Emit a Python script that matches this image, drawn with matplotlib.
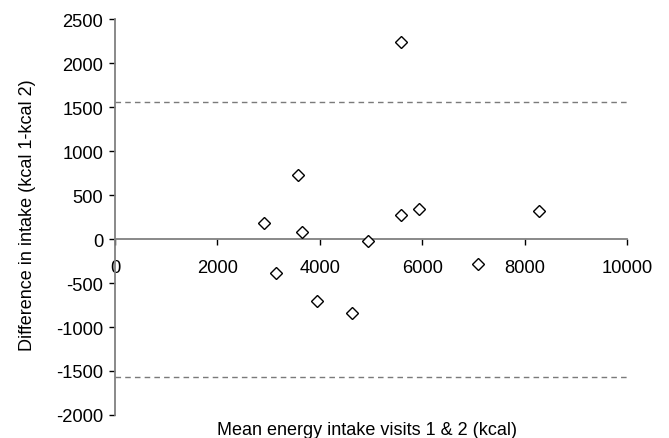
import matplotlib
matplotlib.use('Agg')
import matplotlib.pyplot as plt

# media delle due visite (kcal) e differenza kcal1 - kcal2
media = [2910, 3140, 3570, 3660, 3950, 4630, 4935, 5590, 5590, 5930, 7095, 8280]
differenza = [180, -385, 722, 82, -707, -841, -25, 2240, 270, 336, -281, 318]
limite_sup = 1552
limite_inf = -1573

yticks = [-2000, -1500, -1000, -500, 0, 500, 1000, 1500, 2000, 2500]
xticks = [0, 2000, 4000, 6000, 8000, 10000]

plt.rcParams['font.family'] = ['Liberation Sans', 'DejaVu Sans']
plt.rcParams['axes.unicode_minus'] = False

fig = plt.figure(figsize=(6.69, 4.39), dpi=100)
ax = fig.add_axes([0.1719, 0.0524, 0.7653, 0.902])

ax.plot(media, differenza, ls='none', marker='D', ms=6.2, mfc='white',
        mec='black', mew=1.0, zorder=3)
ax.axhline(limite_sup, color='#7a7a7a', lw=1.0, ls=(0, (4, 3)))
ax.axhline(limite_inf, color='#7a7a7a', lw=1.0, ls=(0, (4, 3)))

ax.set_xlim(0, 10000)
ax.set_ylim(-2000, 2500)
ax.set_xticks(xticks)
ax.set_yticks(yticks)

ax.spines['top'].set_visible(False)
ax.spines['right'].set_visible(False)
ax.spines['bottom'].set_position(('data', 0))
for s in ['left', 'bottom']:
    ax.spines[s].set_color('#808080')
    ax.spines[s].set_linewidth(1.3)

ax.tick_params(axis='y', direction='out', length=4.5, width=1, color='black',
               labelsize=13.2, pad=4)
ax.tick_params(axis='x', direction='out', length=4.5, width=1, color='black',
               labelsize=13.2, pad=10)

ax.set_ylabel('Difference in intake (kcal 1-kcal 2)', fontsize=13)
ax.yaxis.set_label_coords(-0.154, 0.508)
ax.set_xlabel('Mean energy intake visits 1 & 2 (kcal)', fontsize=13)
ax.xaxis.set_label_coords(0.492, -0.016)

fig.savefig('out.png', dpi=100)
